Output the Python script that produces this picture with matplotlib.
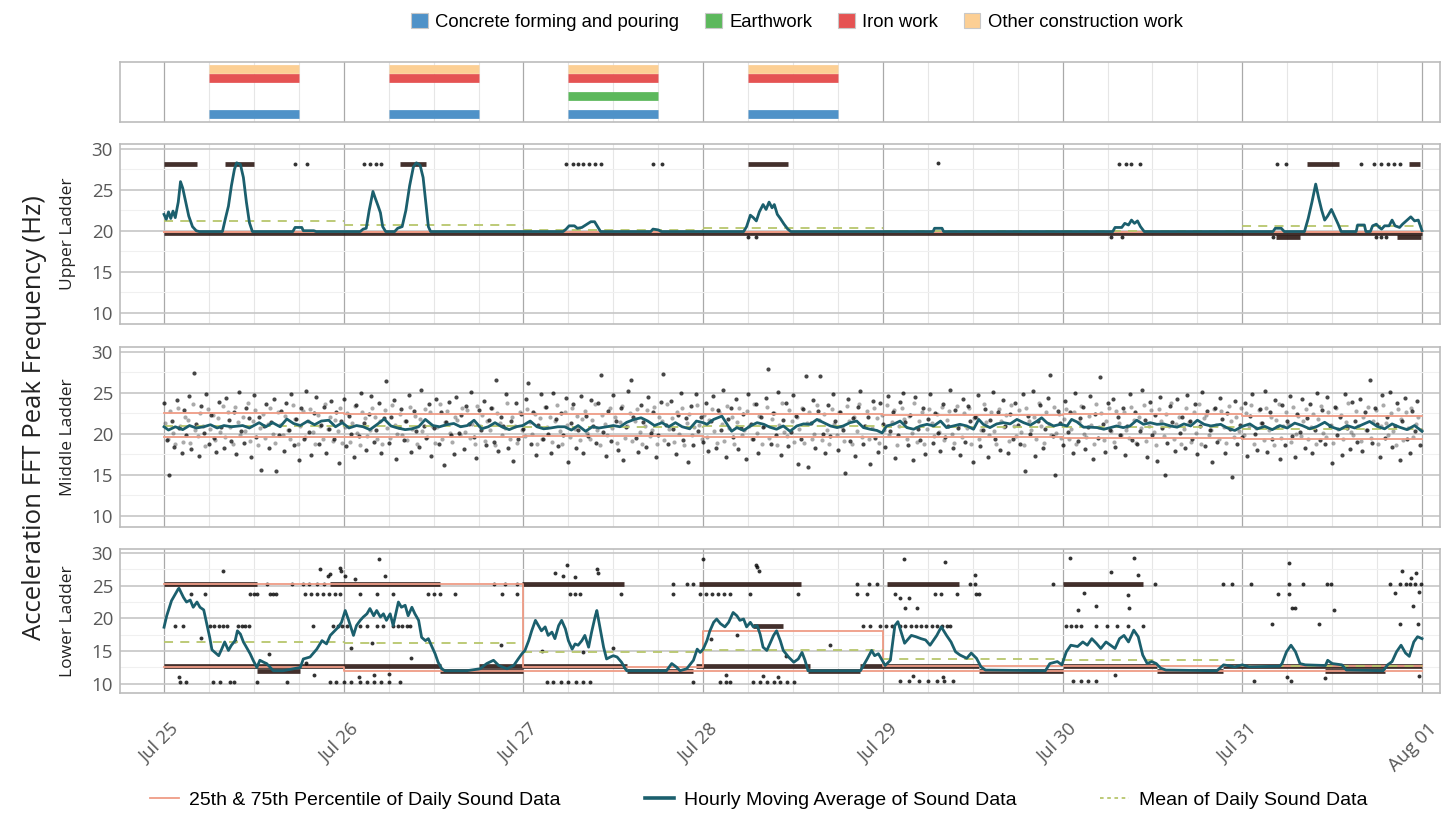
import matplotlib.pyplot as plt
from matplotlib.patches import Patch
from matplotlib.lines import Line2D
from matplotlib.transforms import ScaledTranslation
import numpy as np

plt.rcParams['font.family'] = ['Open Sans', 'DejaVu Sans']

# ---------------- data (time in hours after Jul 25 00:00) ----------------
day_labels = ['Jul 25', 'Jul 26', 'Jul 27', 'Jul 28', 'Jul 29', 'Jul 30', 'Jul 31', 'Aug 01']
panel_names = ['Upper Ladder', 'Middle Ladder', 'Lower Ladder']

# construction activity per day (0 = Jul 25), worked 06:00-18:00
act_names = ['Concrete forming and pouring', 'Earthwork', 'Iron work', 'Other construction work']
act_colors = ['#4f92c8', '#5cb85c', '#e55353', '#fccf94']
act_days = [[0, 1, 2, 3], [2], [0, 1, 2, 3], [0, 1, 2, 3]]
work_hours = (6, 18)

# daily statistics Jul 25 .. Jul 31
upper_p25 = [19.8, 19.8, 19.8, 19.8, 19.8, 19.8, 19.8]
upper_p75 = [19.9, 19.9, 19.9, 19.9, 19.9, 19.9, 19.9]
upper_mean = [21.15, 20.75, 20.05, 20.35, 20.0, 20.0, 20.6]
middle_p25 = [19.6, 19.6, 19.7, 19.6, 19.6, 19.5, 19.3]
middle_p75 = [22.5, 22.4, 22.4, 22.4, 22.3, 22.4, 22.2]
middle_mean = [20.9, 20.9, 20.8, 21.0, 20.8, 20.8, 20.6]
lower_p25 = [12.6, 11.9, 11.9, 12.0, 11.9, 11.9, 12.0]
lower_p75 = [25.3, 25.3, 12.6, 18.0, 12.7, 12.7, 12.8]
lower_mean = [16.4, 16.2, 14.8, 15.1, 13.8, 13.7, 12.8]

# hourly moving average (hour, Hz)
upper_avg = [(0, 22.0), (0.3, 21.4), (0.6, 22.3), (0.9, 21.5), (1.2, 22.4), (1.5, 21.6), (1.9, 23.5), (2.2, 26.0),
             (2.5, 25.2), (2.9, 23.5), (3.3, 21.8), (3.8, 20.5), (4.3, 20.0), (4.7, 19.9), (7.8, 19.9), (8.2, 21.5),
             (8.6, 23.0), (9.0, 25.5), (9.4, 27.5), (9.7, 28.3), (10.2, 28.1), (10.6, 26.5), (11.0, 23.5), (11.4, 21.0),
             (11.8, 19.9), (17.2, 19.9), (17.5, 20.4), (18.4, 20.4), (18.6, 20.0), (20.0, 20.0), (20.3, 19.9),
             (26.2, 19.9), (26.6, 20.2), (27.0, 20.3), (27.4, 22.5), (27.9, 24.8), (28.2, 24.0), (28.6, 23.0),
             (28.9, 22.2), (29.2, 20.5), (29.6, 19.9), (30.8, 19.9), (31.2, 20.3), (31.8, 20.5), (32.3, 22.5),
             (32.8, 25.5), (33.3, 27.8), (33.7, 28.3), (34.2, 28.0), (34.6, 26.5), (35.0, 23.0), (35.3, 20.5),
             (35.6, 19.9), (53.3, 19.9), (53.7, 20.2), (54.1, 20.6), (54.8, 20.6), (55.2, 20.3), (55.8, 20.4),
             (56.5, 20.8), (57.0, 21.1), (57.5, 21.1), (57.9, 20.5), (58.3, 19.9), (65.0, 19.9), (65.3, 20.2),
             (66.0, 20.1), (66.4, 19.9), (77.4, 19.9), (77.8, 20.5), (78.3, 21.9), (78.7, 21.6), (79.1, 21.2),
             (79.5, 22.3), (80.0, 23.2), (80.4, 22.6), (80.8, 23.5), (81.2, 22.8), (81.5, 23.2), (81.9, 22.0),
             (82.3, 21.5), (82.8, 20.8), (83.3, 20.2), (83.7, 19.9), (102.7, 19.9), (102.9, 20.3), (103.9, 20.3),
             (104.1, 19.9), (126.7, 19.9), (127.0, 20.4), (127.9, 20.4), (128.3, 20.9), (128.8, 20.7), (129.2, 21.3),
             (129.6, 20.9), (130.0, 21.2), (130.4, 20.5), (130.9, 19.9), (148.1, 19.9), (148.4, 20.3), (149.2, 20.3),
             (149.6, 19.9), (152.3, 19.9), (152.8, 21.5), (153.3, 23.5), (153.8, 25.7), (154.2, 24.0), (154.6, 22.5),
             (155.0, 21.3), (155.4, 21.8), (155.9, 22.6), (156.3, 21.8), (156.8, 20.8), (157.2, 19.9), (159.2, 19.9),
             (159.4, 20.7), (160.3, 20.7), (160.5, 19.9), (161.1, 19.9), (161.4, 20.6), (161.9, 20.8), (162.3, 20.4),
             (162.6, 20.2), (163.0, 20.6), (163.6, 20.6), (164.0, 21.3), (164.4, 20.6), (165.0, 20.4), (165.4, 20.8),
             (166.0, 21.3), (166.5, 21.7), (167.0, 21.2), (167.5, 21.3), (168, 20.0)]

middle_avg = [(0, 20.85), (0.6, 20.45), (1.5, 20.85), (2.5, 20.5), (3.4, 21.0), (4.3, 20.7), (5.3, 20.85), (6.2, 21.1),
              (7.1, 20.7), (8.0, 21.0), (9.0, 20.85), (10.5, 21.0), (11.4, 20.7), (12.7, 21.35), (13.6, 20.85),
              (14.5, 21.35), (15.5, 20.85), (16.4, 21.8), (17.3, 21.25), (18.2, 21.0), (19.2, 21.55), (20.1, 21.1),
              (21.0, 21.55), (22.0, 21.65), (22.9, 20.85), (23.8, 21.35), (24.7, 20.7), (25.7, 21.0), (26.6, 20.85),
              (27.5, 20.5), (28.4, 21.1), (29.4, 21.8), (30.3, 20.95), (31.2, 20.7), (32.2, 20.5), (33.1, 20.6),
              (34.0, 20.85), (34.9, 21.75), (35.9, 21.0), (36.8, 20.85), (37.7, 21.1), (38.7, 21.25), (39.6, 20.85),
              (40.5, 21.0), (41.4, 21.65), (42.4, 20.6), (43.3, 20.85), (44.2, 21.35), (45.1, 20.85), (46.1, 20.5),
              (47.0, 20.85), (47.9, 21.0), (48.9, 21.55), (49.8, 20.85), (50.7, 20.6), (51.6, 20.7), (52.6, 20.85),
              (53.5, 20.85), (54.4, 20.45), (55.3, 21.0), (56.3, 20.3), (57.2, 20.85), (58.1, 20.7), (59.1, 20.85),
              (60.0, 21.0), (60.9, 20.85), (61.8, 21.4), (62.8, 21.75), (63.7, 21.95), (64.6, 21.55), (65.5, 21.0),
              (66.5, 21.35), (67.4, 20.85), (68.3, 21.35), (69.2, 20.85), (70.2, 20.6), (71.1, 21.55), (72.0, 21.35),
              (72.5, 21.15), (73.4, 21.75), (74.5, 22.15), (75.2, 21.15), (75.8, 20.3), (76.5, 20.75), (77.4, 20.4),
              (78.3, 20.95), (79.2, 21.35), (80.1, 21.15), (80.9, 20.8), (81.8, 20.55), (82.7, 20.95), (83.6, 20.3),
              (84.5, 20.95), (85.4, 21.2), (86.3, 21.15), (87.2, 21.75), (88.1, 21.35), (89.0, 20.95), (89.9, 20.75),
              (90.7, 20.95), (91.6, 21.35), (92.5, 21.55), (93.4, 20.75), (94.3, 20.55), (95.2, 20.4), (95.9, 20.1),
              (96.5, 20.95), (97.4, 21.15), (98.3, 21.55), (99.2, 20.75), (100.1, 20.55), (101.0, 20.95), (101.9, 21.15),
              (102.8, 20.95), (103.7, 21.55), (104.5, 20.75), (105.4, 20.95), (106.3, 21.15), (107.2, 20.95),
              (108.1, 20.55), (108.8, 21.75), (109.4, 21.15), (110.3, 20.75), (111.2, 21.2), (112.1, 21.35),
              (113.0, 21.2), (113.9, 21.75), (114.8, 21.35), (115.7, 21.05), (116.6, 21.55), (117.2, 21.95),
              (117.9, 21.35), (118.8, 20.95), (119.7, 21.15), (120.6, 20.95), (121.2, 21.75), (121.9, 21.45),
              (122.8, 20.8), (123.7, 20.8), (124.6, 20.75), (125.5, 20.55), (126.4, 20.75), (127.2, 20.95),
              (128.1, 20.75), (129.0, 20.95), (129.9, 21.65), (130.8, 21.15), (131.7, 21.35), (132.6, 21.15),
              (133.5, 21.2), (134.4, 20.95), (135.3, 20.8), (136.2, 21.2), (137.1, 20.95), (138.0, 21.65),
              (138.9, 21.15), (139.8, 20.95), (141.1, 21.15), (142.0, 20.7), (143.0, 20.4), (144.0, 20.9),
              (145.0, 21.2), (146.0, 20.6), (147.0, 20.9), (148.0, 20.5), (149.0, 21.0), (150.0, 20.7), (151.0, 21.3),
              (152.0, 21.0), (153.0, 20.6), (154.0, 20.9), (155.0, 21.4), (156.0, 20.8), (157.0, 20.5), (158.0, 21.0),
              (159.0, 20.7), (160.0, 21.1), (161.0, 21.5), (162.0, 20.9), (163.0, 20.6), (164.0, 21.2), (165.0, 20.8),
              (166.0, 20.5), (167.0, 21.0), (168.0, 20.3)]

lower_avg = [(0, 18.65), (0.36, 20.4), (1.0, 22.7), (1.5, 23.7), (1.9, 24.5), (2.0, 24.6), (2.6, 23.2), (3.0, 22.5),
             (3.5, 22.8), (3.9, 21.7), (4.4, 22.5), (4.8, 21.7), (5.3, 21.3), (5.7, 19.2), (6.1, 17.1), (6.4, 15.2),
             (6.8, 14.8), (7.3, 14.3), (7.7, 15.3), (8.1, 16.4), (8.6, 15.1), (9.0, 15.9), (9.5, 16.6), (9.8, 18.1),
             (10.2, 17.6), (10.6, 16.4), (11.0, 15.6), (11.5, 14.6), (11.9, 13.6), (12.4, 12.5), (12.8, 13.6),
             (13.3, 13.3), (13.7, 13.1), (14.2, 12.5), (14.6, 12.0), (15.9, 12.0), (17.3, 12.3), (18.2, 12.5),
             (18.6, 13.8), (19.5, 14.1), (20.4, 15.3), (21.1, 16.6), (21.7, 16.1), (22.2, 17.4), (22.8, 18.1),
             (23.3, 18.7), (23.7, 19.4), (24.2, 21.2), (24.6, 19.9), (25.3, 17.4), (25.7, 18.9), (26.2, 19.7),
             (26.6, 20.2), (27.1, 20.7), (27.5, 21.5), (28.0, 20.4), (28.4, 21.2), (28.9, 20.2), (29.3, 20.7),
             (29.7, 19.7), (30.2, 20.7), (30.6, 18.9), (31.3, 22.5), (31.7, 21.7), (32.2, 22.0), (32.6, 20.4),
             (33.1, 21.7), (33.5, 20.7), (34.0, 19.7), (34.4, 17.1), (34.9, 16.6), (35.3, 16.9), (35.8, 15.6),
             (36.2, 14.6), (36.6, 13.3), (37.1, 12.3), (37.5, 12.0), (40.4, 12.0), (42.2, 12.3), (43.1, 13.1),
             (44.0, 13.6), (44.7, 12.8), (45.8, 12.3), (46.7, 12.8), (47.3, 13.8), (47.8, 14.6), (48.2, 15.1),
             (48.7, 16.6), (49.1, 18.1), (49.6, 19.7), (50.0, 18.9), (50.4, 18.1), (50.9, 18.7), (51.3, 17.4),
             (51.8, 17.9), (52.2, 16.9), (52.7, 18.9), (53.1, 19.7), (53.6, 18.4), (54.0, 16.6), (54.5, 15.3),
             (54.9, 16.1), (55.3, 15.9), (55.8, 16.6), (56.2, 17.4), (56.7, 15.6), (57.1, 17.9), (57.6, 20.4),
             (57.8, 21.2), (58.2, 18.7), (58.7, 15.6), (59.1, 13.8), (59.6, 14.1), (60.0, 14.3), (60.5, 14.1),
             (61.1, 13.3), (61.6, 12.3), (61.8, 12.0), (67.1, 12.0), (67.8, 13.1), (68.5, 12.5), (68.9, 12.0),
             (69.8, 12.3), (70.7, 13.6), (71.2, 15.3), (71.6, 14.8), (72.0, 15.3), (72.5, 16.6), (72.9, 18.1),
             (73.4, 19.4), (73.8, 19.9), (74.3, 19.2), (74.9, 18.7), (75.4, 19.4), (76.0, 20.9), (76.5, 20.4),
             (76.9, 19.7), (77.4, 19.9), (77.8, 18.7), (78.3, 19.4), (78.7, 18.7), (79.2, 18.9), (79.6, 17.6),
             (80.0, 15.6), (80.5, 15.1), (80.9, 16.1), (81.4, 17.4), (81.8, 18.1), (82.3, 16.6), (82.7, 15.1),
             (83.4, 14.1), (84.1, 13.3), (84.7, 13.8), (85.2, 14.8), (85.6, 13.6), (86.0, 12.0), (93.0, 12.0),
             (93.9, 13.8), (94.5, 15.1), (94.9, 14.3), (95.4, 14.6), (95.9, 13.6), (96.3, 12.8), (97.0, 13.6),
             (97.6, 18.9), (98.0, 19.5), (98.9, 16.2), (99.8, 17.4), (100.4, 17.2), (101.1, 16.9), (101.7, 16.7),
             (102.3, 15.9), (103.2, 17.4), (103.8, 18.7), (104.5, 17.4), (105.1, 16.4), (105.7, 14.9), (106.3, 14.4),
             (107.2, 13.9), (107.8, 14.7), (108.5, 13.9), (109.1, 12.6), (109.7, 12.1), (117.7, 12.0), (118.3, 13.1),
             (119.3, 13.4), (119.9, 12.9), (120.5, 14.9), (121.1, 15.9), (122.0, 15.7), (122.7, 16.4), (123.3, 15.9),
             (123.9, 16.9), (124.5, 16.2), (125.1, 15.4), (125.8, 16.4), (126.4, 15.9), (127.0, 15.4), (127.6, 16.9),
             (128.2, 17.4), (128.8, 16.4), (129.5, 18.2), (130.1, 17.2), (130.7, 14.4), (131.3, 13.1), (131.9, 13.4),
             (132.5, 13.1), (133.1, 12.4), (133.8, 12.1), (140.6, 12.0), (141.5, 12.9), (143.0, 12.6), (144.0, 12.9),
             (144.9, 12.6), (149.0, 12.7), (149.3, 13.1), (149.9, 14.9), (150.5, 15.9), (151.1, 14.9), (151.7, 13.1),
             (152.4, 12.9), (155.1, 12.8), (155.4, 13.6), (156.0, 13.1), (157.3, 12.9), (157.9, 12.1), (162.8, 12.0),
             (163.4, 12.9), (164.0, 13.4), (164.6, 14.9), (165.2, 15.9), (165.8, 14.7), (166.3, 14.2), (166.9, 16.4),
             (167.4, 17.2), (168, 16.9)]

# runs of densely packed sound samples (start hour, end hour, Hz)
upper_runs = [(0, 168, 19.7), (0, 4.4, 28.2), (8.2, 12.0, 28.2), (31.5, 35.0, 28.2), (78.0, 83.3, 28.1),
              (152.6, 156.9, 28.2), (166.3, 167.7, 28.2), (148.5, 151.7, 19.2), (164.7, 167.9, 19.2)]
lower_runs = [(0, 12.4, 25.3), (22.2, 36.9, 25.3), (47.8, 61.4, 25.3), (71.4, 85.0, 25.3), (96.5, 106.2, 25.3),
              (120.1, 130.8, 25.3), (0, 37, 12.7), (42, 61.8, 12.7), (71, 86.3, 12.7), (93, 108.9, 12.7),
              (120, 132.6, 12.7), (141.4, 168, 12.7), (12.4, 18.2, 12.0), (36.9, 48, 12.0), (61.8, 70.7, 12.0),
              (86, 93, 12.0), (108.9, 120.1, 12.0), (132.6, 141.4, 12.0), (155, 163, 12.0), (78.7, 82.7, 18.9)]

# isolated samples (hour, Hz)
upper_pts = [(17.5, 28.2), (19.1, 28.2), (26.7, 28.2), (27.5, 28.2), (28.3, 28.2), (29.0, 28.2), (53.7, 28.2),
             (54.6, 28.2), (55.3, 28.2), (56.0, 28.2), (56.8, 28.2), (57.6, 28.2), (58.3, 28.2), (65.3, 28.1),
             (66.5, 28.1), (103.3, 28.3), (127.5, 28.1), (128.4, 28.1), (129.2, 28.1), (130.3, 28.2), (148.6, 28.2),
             (149.9, 28.2), (159.8, 28.2), (161.6, 28.2), (162.5, 28.2), (163.4, 28.2), (164.3, 28.2), (165.0, 28.2),
             (78.0, 19.2), (79.0, 19.2), (126.5, 19.2), (127.9, 19.2), (148.1, 19.2), (161.9, 19.2), (162.5, 19.2),
             (163.2, 19.2)]

lower_pts = [(13.7, 25.3), (17.1, 25.3), (18.6, 25.3), (19.3, 25.3), (20.4, 25.3), (21.3, 25.3), (44.0, 25.3),
             (45.5, 25.3), (47.1, 25.3), (68.0, 25.3), (69.8, 25.3), (70.7, 25.3), (92.5, 25.3), (94.1, 25.3),
             (95.2, 25.3), (107.6, 25.3), (108.3, 25.3), (118.7, 25.3), (132.4, 25.3), (141.4, 25.3), (142.6, 25.3),
             (145.1, 25.3), (150.2, 25.3), (152.1, 25.3), (155.3, 25.3), (155.8, 25.3), (163.7, 25.3), (165.1, 25.3),
             (165.8, 25.3), (166.4, 25.3), (167.0, 25.3), (167.9, 25.3),
             (3.6, 23.7), (5.5, 23.7), (11.5, 23.7), (12.0, 23.7), (12.4, 23.7), (14.2, 23.7), (14.6, 23.7),
             (15.0, 23.7), (18.8, 23.7), (19.6, 23.7), (20.4, 23.7), (21.2, 23.7), (22.0, 23.7), (22.8, 23.7),
             (23.5, 23.7), (26.2, 23.7), (28.4, 23.7), (30.6, 23.7), (35.3, 23.7), (36.1, 23.7), (36.9, 23.7),
             (38.9, 23.7), (45.1, 23.7), (47.1, 23.7), (54.2, 23.7), (54.9, 23.7), (55.6, 23.7), (61.0, 23.7),
             (68.0, 23.7), (71.6, 23.7), (72.4, 23.7), (73.2, 23.7), (74.0, 23.7), (74.8, 23.7), (75.6, 23.7),
             (78.3, 23.7), (84.7, 23.7), (92.5, 23.7), (93.9, 23.7), (97.6, 23.7), (103.0, 23.7), (103.7, 23.7),
             (105.9, 23.7), (108.5, 23.7), (108.9, 23.7), (148.8, 23.7), (150.2, 23.7), (164.4, 23.9),
             (1.5, 18.9), (2.6, 18.9), (6.1, 18.9), (6.7, 18.9), (7.3, 18.9), (7.9, 18.9), (8.4, 18.9), (9.9, 18.9),
             (10.4, 18.9), (10.8, 18.9), (11.3, 18.9), (19.9, 18.9), (22.6, 18.9), (23.2, 18.9), (23.8, 18.9),
             (24.4, 18.9), (26.2, 18.9), (27.1, 18.9), (28.4, 18.9), (29.3, 18.9), (30.6, 18.9), (31.2, 18.9),
             (31.8, 18.9), (32.4, 18.9), (32.9, 18.9), (93.4, 18.9), (94.3, 18.9), (95.6, 18.9), (96.4, 18.9),
             (97.2, 18.9), (98.3, 18.9), (99.0, 18.9), (99.7, 18.9), (100.4, 18.9), (101.1, 18.9), (101.8, 18.9),
             (102.5, 18.9), (103.2, 18.9), (103.9, 18.9), (104.6, 18.9), (105.0, 18.9), (120.5, 18.9), (121.1, 18.9),
             (121.8, 18.9), (122.4, 18.9), (124.4, 18.9), (125.9, 18.9), (127.3, 18.9), (128.8, 18.9), (130.8, 18.9),
             (148.0, 19.1), (154.2, 19.1), (165.1, 19.1), (167.4, 19.1),
             (2.1, 10.3), (3.0, 10.3), (6.6, 10.3), (7.5, 10.3), (8.8, 10.3), (9.3, 10.3), (12.4, 10.3), (16.4, 10.3),
             (22.2, 10.3), (23.0, 10.3), (24.0, 10.3), (25.0, 10.3), (26.2, 10.3), (27.1, 10.3), (28.0, 10.3),
             (29.0, 10.3), (30.0, 10.3), (31.5, 10.3), (51.1, 10.3), (52.0, 10.3), (53.0, 10.3), (54.0, 10.3),
             (55.0, 10.3), (56.0, 10.3), (56.9, 10.3), (70.7, 10.3), (74.3, 10.3), (75.0, 10.3), (75.6, 10.3),
             (78.7, 10.3), (79.6, 10.3), (80.5, 10.3), (81.4, 10.3), (82.3, 10.3), (83.2, 10.3), (84.1, 10.3),
             (98.3, 10.4), (99.5, 10.4), (100.8, 10.4), (102.0, 10.4), (103.2, 10.4), (104.2, 10.4), (105.3, 10.4),
             (121.4, 10.4), (122.5, 10.4), (123.4, 10.4), (124.4, 10.4), (145.6, 10.4), (150.5, 10.4),
             (7.9, 27.3), (20.8, 27.6), (21.9, 26.5), (22.2, 26.8), (23.5, 27.7), (23.7, 27.3), (24.2, 26.5),
             (25.5, 26.0), (28.7, 29.0), (29.5, 26.5), (52.2, 27.0), (53.3, 26.5), (53.8, 28.1), (54.9, 26.3),
             (57.8, 27.6), (57.9, 27.0), (72.0, 29.0), (79.1, 28.1), (79.2, 27.8), (79.4, 27.3), (98.8, 29.0),
             (104.3, 28.6), (108.3, 26.6), (121.0, 29.2), (126.5, 27.1), (129.6, 29.2), (130.1, 26.6), (150.2, 28.5),
             (165.3, 27.2), (166.5, 26.2), (167.2, 26.9),
             (5.0, 17.0), (9.5, 16.5), (14.0, 14.5), (19.0, 13.2), (25.0, 15.5), (27.8, 16.2), (33.0, 14.0),
             (45.0, 16.0), (50.5, 15.0), (56.0, 14.8), (60.0, 15.5), (73.0, 16.8), (76.5, 17.5), (83.0, 14.2),
             (89.0, 16.0), (99.0, 21.6), (98.3, 23.1), (99.5, 23.1), (100.6, 21.6), (122.0, 21.3), (122.9, 23.9),
             (124.5, 21.9), (128.7, 23.6), (128.9, 21.6), (150.7, 21.6), (151.1, 21.6), (156.3, 21.3), (166.8, 21.9),
             (167.6, 24.1), (155.1, 10.9), (167.6, 11.2), (2.0, 11.0), (20.0, 11.3), (26.0, 11.0), (28.0, 11.4),
             (30.0, 11.5), (75.0, 11.3), (80.0, 11.2), (82.0, 11.0), (100.0, 11.2), (104.0, 11.0), (127.0, 11.3),
             (150.0, 11.0)]

# middle ladder: one sample every 20 minutes (Hz), second sensor channel offset by 10 minutes
middle_step_h = 1 / 3
middle_pts = [
    23.8, 19.2, 15.0, 21.6, 18.4, 24.1, 20.7, 17.6, 22.9, 19.8, 24.6, 18.1, 27.4, 21.2, 17.3, 23.4, 20.1, 24.9, 18.7, 22.3, 19.5, 17.8, 23.9, 20.8,
    18.3, 24.4, 21.7, 19.1, 22.6, 17.5, 25.1, 20.3, 18.9, 23.2, 21.9, 17.1, 24.7, 19.6, 22.1, 15.6, 20.9, 23.6, 18.2, 21.4, 24.2, 15.4, 19.9, 22.8,
    17.9, 23.7, 20.5, 24.8, 18.6, 21.8, 16.8, 23.1, 19.4, 25.2, 20.2, 17.4, 22.5, 24.5, 18.8, 21.1, 23.3, 17.7, 20.6, 24.0, 19.3, 22.7, 16.4, 21.5,
    24.3, 18.5, 22.2, 20.0, 17.2, 23.5, 19.7, 25.0, 21.3, 18.0, 22.4, 24.6, 19.0, 20.4, 23.8, 17.6, 21.9, 26.4, 18.9, 22.0, 24.1, 16.9, 20.8, 23.0,
    19.2, 21.6, 24.7, 17.8, 22.8, 20.3, 18.4, 25.3, 21.0, 19.5, 23.6, 17.3, 20.7, 24.2, 18.7, 22.6, 16.2, 21.4, 23.9, 19.8, 17.5, 24.5, 20.1, 22.3,
    18.1, 23.4, 21.2, 25.1, 19.6, 17.0, 22.9, 20.4, 24.0, 18.6, 21.7, 23.1, 19.0, 26.6, 17.9, 22.1, 20.9, 24.8, 18.3, 21.5, 16.7, 23.7, 19.4, 22.4,
    20.6, 24.3, 26.2, 18.8, 22.7, 17.4, 21.1, 24.9, 19.3, 23.3, 20.0, 17.7, 25.0, 21.8, 18.5, 22.5, 19.9, 24.4, 16.6, 21.3, 23.6, 18.2, 20.5, 24.6,
    17.6, 22.2, 19.7, 24.1, 21.0, 18.9, 23.8, 27.2, 20.2, 17.3, 22.8, 19.1, 24.7, 21.6, 18.0, 23.2, 16.8, 20.8, 25.2, 26.6, 22.0, 19.5, 17.8, 23.5,
    21.4, 18.4, 24.5, 20.1, 22.6, 17.1, 19.8, 23.9, 27.3, 21.1, 18.7, 24.0, 20.6, 17.5, 22.3, 25.0, 19.2, 21.9, 16.5, 23.4, 18.6, 24.8, 20.3, 22.1,
    19.0, 23.7, 17.9, 21.5, 24.6, 18.3, 22.9, 20.4, 25.3, 17.2, 21.8, 23.1, 19.6, 24.2, 18.1, 20.7, 22.4, 16.9, 24.9, 21.2, 19.3, 23.6, 17.7, 22.0,
    20.8, 24.4, 27.9, 18.8, 22.5, 19.9, 25.1, 17.4, 21.7, 23.8, 18.5, 20.2, 24.7, 22.2, 16.3, 19.4, 23.0, 27.0, 15.9, 21.3, 24.1, 18.2, 22.8, 27.1,
    20.0, 17.6, 23.5, 19.7, 24.9, 21.6, 18.0, 22.6, 20.5, 15.2, 24.3, 19.1, 21.9, 17.3, 23.3, 25.2, 18.7, 20.9, 22.1, 16.3, 24.0, 19.5, 17.8, 23.7,
    21.2, 18.4, 24.6, 20.3, 22.7, 17.0, 19.8, 23.9, 25.0, 21.4, 18.6, 22.3, 16.8, 24.5, 20.6, 19.2, 23.1, 17.5, 21.8, 24.8, 18.9, 22.5, 20.1, 17.9,
    23.6, 19.6, 21.0, 25.3, 18.2, 22.9, 20.7, 17.4, 24.2, 19.0, 23.4, 21.5, 16.6, 22.0, 24.7, 18.5, 20.4, 23.0, 17.1, 21.7, 25.1, 19.4, 22.6, 18.0,
    24.1, 20.9, 17.7, 22.4, 19.3, 23.8, 21.1, 18.8, 24.9, 15.5, 22.2, 20.0, 25.2, 17.3, 21.6, 23.5, 18.3, 20.6, 24.4, 27.2, 19.7, 15.0, 22.8, 21.3,
    18.6, 24.0, 20.2, 22.7, 17.6, 25.0, 19.1, 21.9, 23.3, 18.1, 20.8, 24.6, 16.9, 22.4, 19.5, 26.9, 21.2, 17.8, 23.7, 20.5, 24.3, 18.4, 22.1, 19.8,
    23.1, 17.4, 21.0, 24.8, 19.2, 22.6, 18.7, 20.3, 25.3, 21.7, 17.2, 23.9, 19.9, 22.3, 16.7, 24.5, 20.7, 15.0, 18.9, 23.4, 21.4, 17.9, 24.2, 20.1,
    22.0, 18.2, 24.7, 21.5, 19.4, 23.6, 17.5, 20.9, 25.1, 18.5, 22.8, 20.4, 16.5, 23.2, 19.0, 24.4, 21.8, 17.7, 22.5, 20.6, 14.7, 24.0, 18.8, 21.1,
    19.6, 23.8, 17.3, 22.2, 24.9, 20.0, 18.0, 23.0, 21.3, 25.2, 17.8, 22.7, 19.3, 24.1, 20.8, 16.9, 23.5, 18.6, 21.6, 24.6, 19.7, 17.1, 22.4, 20.2,
    24.3, 18.3, 21.9, 23.6, 17.6, 20.5, 25.0, 19.2, 22.9, 18.7, 24.5, 21.0, 16.4, 23.3, 19.9, 22.1, 17.4, 24.8, 20.7, 18.1, 23.9, 21.5, 19.0, 24.2,
    17.9, 22.6, 20.4, 26.6, 18.9, 23.1, 21.2, 17.2, 24.7, 19.5, 22.0, 25.1, 18.4, 20.9, 23.7, 16.8, 21.6, 24.4, 19.3, 17.7, 22.8, 20.3, 24.0, 18.6,
]
middle_pts_b = [
    21.3, 19.4, 22.8, 20.1, 18.7, 23.2, 20.9, 19.0, 22.1, 21.7, 18.9, 23.6, 20.4, 19.7, 22.5, 21.0, 18.5, 23.0, 20.6, 22.3, 19.2, 21.9, 20.2, 23.4,
    19.6, 22.7, 20.8, 18.8, 23.3, 21.4, 19.9, 22.0, 20.3, 23.7, 19.1, 21.6, 22.9, 18.6, 20.7, 22.4, 19.5, 21.2, 23.1, 20.0, 18.9, 22.6, 21.1, 19.8,
    22.2, 20.5, 19.3, 23.5, 21.8, 18.7, 20.9, 22.8, 19.6, 21.5, 23.0, 20.2, 18.8, 22.3, 21.0, 19.4, 23.6, 20.6, 22.0, 19.1, 21.7, 20.3, 23.2, 18.9,
    20.8, 22.5, 19.0, 21.3, 23.4, 20.1, 18.6, 22.7, 21.9, 19.7, 20.4, 23.1, 22.1, 19.3, 21.6, 18.8, 22.9, 20.7, 19.5, 23.5, 21.1, 20.0, 22.4, 19.8,
    21.5, 19.2, 23.3, 20.6, 22.2, 18.7, 21.8, 20.3, 23.0, 19.6, 22.6, 21.0, 18.9, 20.8, 23.6, 19.4, 21.4, 22.8, 20.1, 19.0, 22.0, 21.7, 19.9, 23.2,
    20.2, 22.9, 19.5, 21.2, 18.8, 23.4, 20.9, 22.3, 19.1, 21.6, 20.4, 23.1, 18.6, 22.5, 21.3, 19.8, 20.7, 23.7, 19.3, 22.1, 21.0, 18.9, 22.7, 20.5,
    19.7, 23.0, 21.4, 20.0, 22.4, 18.7, 21.9, 19.4, 23.3, 20.8, 22.0, 19.0, 21.5, 23.5, 20.3, 18.8, 22.6, 21.1, 19.6, 23.2, 20.6, 22.2, 19.2, 21.8,
    22.8, 20.1, 19.3, 21.7, 23.6, 20.5, 18.6, 22.3, 21.2, 19.9, 23.1, 20.7, 22.0, 18.9, 21.4, 23.4, 19.5, 20.9, 22.5, 19.1, 21.6, 23.0, 20.2, 18.7,
    21.0, 22.9, 19.7, 20.4, 23.3, 18.8, 22.1, 21.5, 19.2, 23.6, 20.6, 21.9, 19.0, 22.7, 20.0, 23.2, 18.6, 21.3, 22.4, 19.8, 20.8, 23.5, 21.1, 19.4,
    22.3, 19.6, 21.7, 23.0, 20.3, 18.9, 22.6, 21.2, 19.1, 23.4, 20.7, 22.0, 18.7, 21.4, 23.1, 19.9, 20.5, 22.8, 21.0, 19.3, 23.6, 20.1, 22.2, 18.8,
    20.9, 23.3, 19.5, 21.8, 22.5, 18.6, 21.1, 23.7, 20.2, 19.7, 22.9, 21.5, 19.0, 22.1, 20.6, 23.2, 18.9, 21.3, 22.7, 19.4, 20.0, 23.5, 21.7, 19.2,
    22.4, 20.4, 18.8, 23.0, 21.2, 19.8, 22.6, 20.8, 19.1, 23.4, 21.6, 18.7, 22.0, 20.3, 23.6, 19.6, 21.0, 22.8, 19.3, 20.7, 23.1, 21.9, 18.9, 22.3,
    20.5, 23.5, 19.9, 21.4, 22.9, 18.6, 20.9, 23.2, 21.8, 19.4, 22.2, 20.1, 23.7, 19.0, 21.5, 22.6, 18.8, 20.6, 23.0, 21.3, 19.7, 22.4, 20.2, 23.3,
    19.2, 21.7, 22.8, 20.0, 18.9, 23.4, 21.1, 19.6, 22.5, 20.7, 23.1, 18.7, 21.9, 22.1, 19.3, 20.4, 23.6, 21.4, 19.8, 22.7, 20.3, 18.8, 23.0, 21.6,
    20.8, 22.3, 19.1, 23.5, 21.0, 19.7, 22.9, 20.2, 18.6, 23.2, 21.5, 20.5, 22.0, 19.4, 23.7, 20.9, 18.9, 22.6, 21.2, 19.9, 23.3, 20.1, 22.4, 19.5,
    21.8, 23.0, 19.3, 20.6, 22.7, 18.7, 21.4, 23.4, 20.0, 19.6, 22.2, 21.1, 18.8, 23.6, 20.8, 22.5, 19.2, 21.6, 23.1, 20.3, 19.0, 22.8, 21.3, 19.8,
    22.6, 20.4, 19.5, 23.3, 21.7, 18.9, 22.1, 20.7, 23.5, 19.1, 21.0, 22.9, 20.2, 18.6, 23.0, 21.5, 19.7, 22.4, 20.9, 23.7, 19.4, 21.2, 22.0, 18.8,
    20.6, 23.2, 21.4, 19.0, 22.7, 20.1, 23.6, 18.7, 21.9, 22.3, 19.8, 20.5, 23.0, 21.1, 19.3, 22.8, 20.8, 18.9, 23.4, 21.6, 19.6, 22.1, 20.3, 23.1,
    19.9, 22.5, 21.0, 23.5, 18.8, 20.7, 22.9, 21.3, 19.2, 23.2, 20.4, 22.0, 18.6, 21.7, 23.6, 19.5, 20.9, 22.6, 21.2, 19.0, 23.3, 20.0, 22.2, 19.7,
    21.5, 23.0, 19.4, 20.8, 22.4, 18.7, 21.8, 23.4, 20.1, 19.6, 22.7, 21.1, 18.9, 23.1, 20.6, 22.3, 19.3, 21.4, 23.7, 20.2, 19.8, 22.8, 21.0, 19.1,
    22.1, 20.5, 23.3, 19.5, 21.6, 22.9, 18.8, 20.9, 23.5, 21.3, 19.9, 22.5, 20.3, 18.6, 23.0, 21.8, 19.2, 22.6, 20.7, 23.2, 19.6, 21.2, 22.0, 20.4,
]

# ---------------- layout ----------------
W, H = 1452, 813
fig = plt.figure(figsize=(W / 100, H / 100), dpi=100)

PCT_COLOR = '#ef9c86'
AVG_COLOR = '#1b5f6d'
MEAN_COLOR = '#b7c66c'
RUN_COLOR = '#2e1915'
day_edges = np.arange(0, 169, 24)


def px_axes(top, bottom, left=120, right=1440):
    return fig.add_axes([left / W, 1 - bottom / H, (right - left) / W, (bottom - top) / H])


def style_panel(ax, ylim=(8.6, 30.6), ygrid=True):
    ax.set_xlim(-5.88, 170.4)
    ax.set_ylim(*ylim)
    ax.set_xticks(day_edges)
    ax.set_xticks(np.arange(0, 169, 6), minor=True)
    ax.grid(True, which='major', axis='x', color='#a9a9a9', lw=0.9, zorder=0)
    ax.grid(True, which='minor', axis='x', color='#e6e6e6', lw=0.8, zorder=0)
    if ygrid:
        ax.set_yticks([10, 15, 20, 25, 30])
        ax.set_yticks([12.5, 17.5, 22.5, 27.5], minor=True)
        ax.grid(True, which='major', axis='y', color='#c6c6c6', lw=1.2, zorder=0)
        ax.grid(True, which='minor', axis='y', color='#f0f0f0', lw=0.8, zorder=0)
    ax.set_axisbelow(True)
    for s in ax.spines.values():
        s.set_color('#bcbcbc')
        s.set_linewidth(1.2)
    ax.tick_params(which='both', length=0)
    ax.tick_params(axis='y', labelsize=13.5, labelcolor='#595959', pad=5)
    ax.set_xticklabels([])


# construction activity strip
ax_act = px_axes(62, 122)
style_panel(ax_act, ylim=(-0.44, 2.86), ygrid=False)
ax_act.set_yticks([])
act_rows = {'Concrete forming and pouring': 0, 'Earthwork': 1, 'Iron work': 2, 'Other construction work': 2.5}
for name, color, days in zip(act_names, act_colors, act_days):
    for d in days:
        ax_act.hlines(act_rows[name], d * 24 + work_hours[0], d * 24 + work_hours[1],
                      color=color, lw=6.3, zorder=3)

panels = [
    (panel_names[0], (144, 324), upper_p25, upper_p75, upper_mean, upper_avg, upper_runs, upper_pts),
    (panel_names[1], (347, 527), middle_p25, middle_p75, middle_mean, middle_avg, [], []),
    (panel_names[2], (549, 693), lower_p25, lower_p75, lower_mean, lower_avg, lower_runs, lower_pts),
]

axes = []
for name, (top, bottom), p25, p75, mean, avg, runs, pts in panels:
    ax = px_axes(top, bottom)
    style_panel(ax)
    axes.append(ax)

    if name == 'Middle Ladder':
        tb = np.arange(len(middle_pts_b)) * middle_step_h + middle_step_h / 2
        ax.scatter(tb, middle_pts_b, s=9, color='#444444', alpha=0.45, lw=0, zorder=2)
        t = np.arange(len(middle_pts)) * middle_step_h
        ax.scatter(t, middle_pts, s=9, color='black', alpha=0.72, lw=0, zorder=2)
    for t0, t1, v in runs:
        ax.hlines(v, t0, t1, color=RUN_COLOR, lw=3.4, alpha=0.9, zorder=2)
    if pts:
        pt, pv = zip(*pts)
        ax.scatter(pt, pv, s=8, color='black', alpha=0.8, lw=0, zorder=2)

    ax.step(day_edges, list(p25) + [p25[-1]], where='post', color=PCT_COLOR, lw=1.3, zorder=3)
    ax.step(day_edges, list(p75) + [p75[-1]], where='post', color=PCT_COLOR, lw=1.3, zorder=3)
    ax.hlines(mean, day_edges[:-1], day_edges[1:], color=MEAN_COLOR, lw=1.3,
              linestyles=(0, (5, 4)), zorder=3)
    at, av = zip(*avg)
    ax.plot(at, av, color=AVG_COLOR, lw=2.0, zorder=4)

    fig.text(68 / W, 1 - (top + bottom) / 2 / H, name, rotation=90, ha='center', va='center',
             fontsize=12.5, color='#222222')

# x tick labels on the bottom panel
ax_low = axes[-1]
ax_low.set_xticklabels(day_labels, rotation=45, ha='right', va='center', rotation_mode='anchor',
                       fontsize=13.5, color='#595959')
ax_low.tick_params(axis='x', pad=24)
for lbl in ax_low.get_xticklabels():
    lbl.set_transform(lbl.get_transform() + ScaledTranslation(0.12, 0, fig.dpi_scale_trans))

fig.text(35 / W, 1 - 418 / H, 'Acceleration FFT Peak Frequency (Hz)', rotation=90,
         ha='center', va='center', fontsize=18.5, color='#222222')

# top legend: construction activities
act_handles = [Patch(facecolor=c, edgecolor='#c8c8c8', lw=0.8, label=n) for n, c in zip(act_names, act_colors)]
fig.legend(handles=act_handles, loc='center', bbox_to_anchor=(797 / W, 1 - 22 / H), ncol=4, frameon=False,
           handlelength=0.9, handleheight=0.9, handletextpad=0.4, columnspacing=1.4,
           prop={'family': ['Liberation Sans', 'DejaVu Sans'], 'size': 13.3})

# bottom legend: statistics
stat_handles = [
    (150, Line2D([], [], color=PCT_COLOR, lw=1.3), '25th & 75th Percentile of Daily Sound Data'),
    (645, Line2D([], [], color=AVG_COLOR, lw=2.6), 'Hourly Moving Average of Sound Data'),
    (1100, Line2D([], [], color=MEAN_COLOR, lw=1.3, ls=(0, (2, 2))), 'Mean of Daily Sound Data'),
]
for x0, h, lab in stat_handles:
    fig.legend(handles=[h], labels=[lab], loc='center left', bbox_to_anchor=(x0 / W, 1 - 800 / H),
               frameon=False, borderpad=0, borderaxespad=0, handlelength=1.5, handletextpad=0.5,
               prop={'family': ['Liberation Sans', 'DejaVu Sans'], 'size': 14})

fig.savefig('out.png', dpi=100)
